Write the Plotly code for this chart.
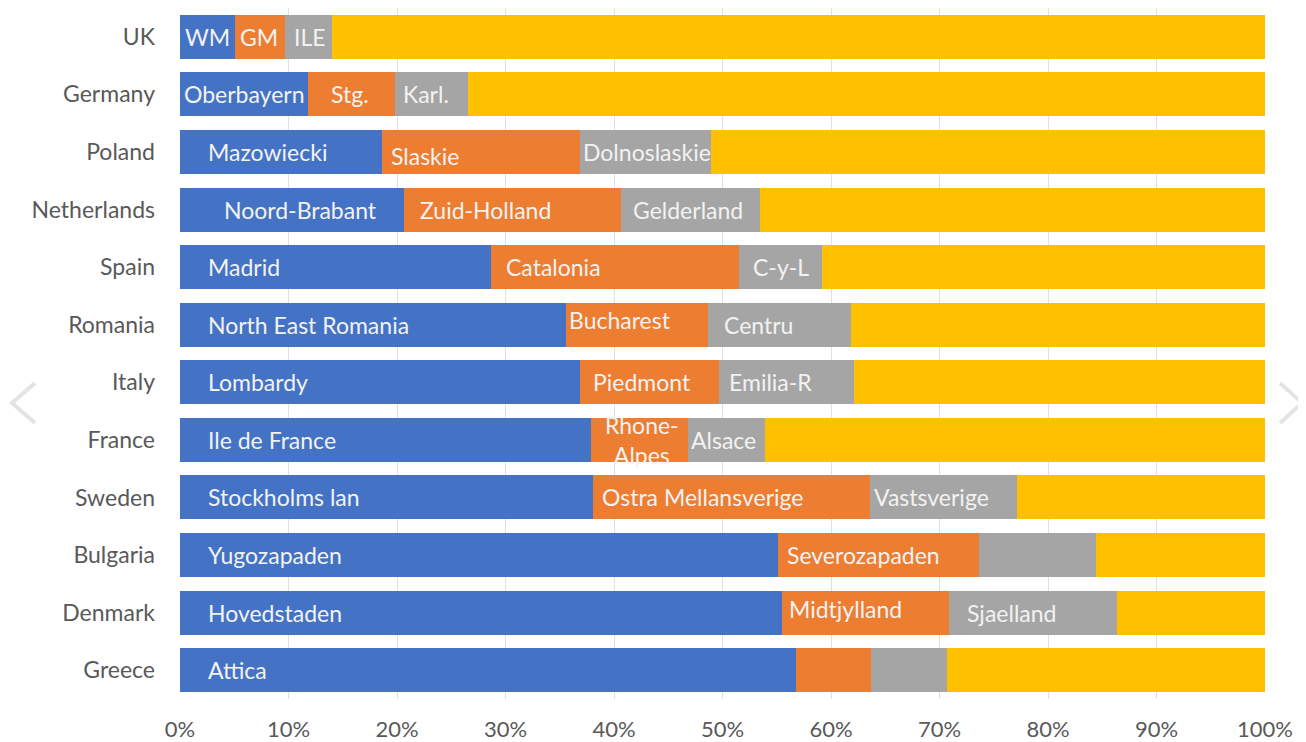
import plotly.graph_objects as go

countries = ["UK", "Germany", "Poland", "Netherlands", "Spain", "Romania",
             "Italy", "France", "Sweden", "Bulgaria", "Denmark", "Greece"]

region1 = [5.1, 11.8, 18.6, 20.6, 28.7, 35.6, 36.9, 37.9, 38.1, 55.1, 55.5, 56.8]
region2 = [4.6, 8.0, 18.3, 20.0, 22.8, 13.1, 12.8, 8.9, 25.5, 18.5, 15.4, 6.9]
region3 = [4.3, 6.7, 12.0, 12.9, 7.7, 13.1, 12.4, 7.1, 13.5, 10.8, 15.5, 7.0]
rest = [round(100 - a - b - c, 1) for a, b, c in zip(region1, region2, region3)]

labels1 = ["WM", "Oberbayern", "Mazowiecki", "Noord-Brabant", "Madrid",
           "North East Romania", "Lombardy", "Ile de France", "Stockholms lan",
           "Yugozapaden", "Hovedstaden", "Attica"]
labels2 = ["GM", "Stg.", "Slaskie", "Zuid-Holland", "Catalonia", "Bucharest",
           "Piedmont", "Rhone-<br>Alpes", "Ostra Mellansverige", "Severozapaden",
           "Midtjylland", ""]
labels3 = ["ILE", "Karl.", "Dolnoslaskie", "Gelderland", "C-y-L", "Centru",
           "Emilia-R", "Alsace", "Vastsverige", "", "Sjaelland", ""]

xticks = [0, 10, 20, 30, 40, 50, 60, 70, 80, 90, 100]
xticklabels = [f"{v}%" for v in xticks]

# ---- style (label placement offsets in pixels, not data) ----
shift1 = [3, 2, 26, 42, 26, 26, 26, 26, 26, 26, 26, 26]
shift2 = [3, 21, 7, 14, 13, 1, 11, 12, 7, 7, 5, 0]
shift3 = [7, 6, 1, 10, 12, 14, 8, 1, 2, 0, 16, 0]
yshift2 = [0, 0, -4, 0, 0, 5, 0, 0, 0, 0, 4, 0]

colors = ["#4472C4", "#ED7D31", "#A5A5A5", "#FFC000"]
FONT = "Lato"
LABEL_SIZE = 23

fig = go.Figure()
for vals, col in zip([region1, region2, region3, rest], colors):
    fig.add_trace(go.Bar(
        y=countries, x=vals, orientation="h",
        marker=dict(color=col, line=dict(width=0)),
        hoverinfo="skip", showlegend=False,
    ))

series = [(region1, labels1, shift1, [0] * 12),
          (region2, labels2, shift2, yshift2),
          (region3, labels3, shift3, [0] * 12)]
base = [0.0] * len(countries)
for vals, labs, shifts, yshifts in series:
    for i, (c, v, lab) in enumerate(zip(countries, vals, labs)):
        if lab:
            fig.add_annotation(
                x=base[i], y=c, text=lab, xanchor="left", yanchor="middle",
                xshift=shifts[i], yshift=yshifts[i], showarrow=False,
                font=dict(family=FONT, size=LABEL_SIZE, color="#F2F2F2"),
            )
    base = [b + v for b, v in zip(base, vals)]

# carousel chevrons visible in the screenshot (figure pixel -> paper coords)
PW, PH, L, T = 1085, 691, 172, 0
def px(x): return (x - 8 - L) / PW
def py(y): return 1 - (y - 8 - T) / PH
for pts in ([(35, 383), (12, 403), (35, 423)], [(1280, 383), (1302, 403), (1280, 423)]):
    path = "M {} {} L {} {} L {} {}".format(px(pts[0][0]), py(pts[0][1]),
                                           px(pts[1][0]), py(pts[1][1]),
                                           px(pts[2][0]), py(pts[2][1]))
    fig.add_shape(type="path", xref="paper", yref="paper", path=path,
                  line=dict(color="#E4E4E4", width=4))

fig.update_layout(
    barmode="stack", bargap=0.236,
    width=1306, height=742,
    margin=dict(l=172, r=49, t=0, b=51),
    plot_bgcolor="white", paper_bgcolor="white",
    font=dict(family=FONT, size=23, color="#595959"),
    xaxis=dict(range=[0, 100], tickvals=xticks, ticktext=xticklabels,
               showgrid=True, gridcolor="#E0E0E0", gridwidth=1,
               zeroline=False, showline=False, ticks="",
               tickfont=dict(size=22),
               ticklabelstandoff=15, fixedrange=True),
    yaxis=dict(autorange="reversed", showgrid=False, ticks="",
               ticklabelstandoff=24, showline=False),
)

fig.write_html("out.html")
